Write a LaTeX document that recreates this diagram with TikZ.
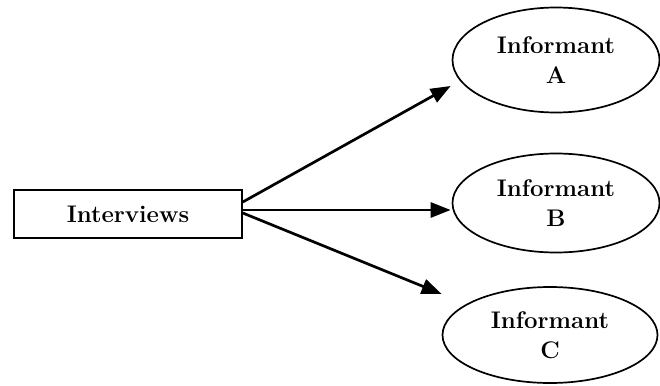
\documentclass[tikz,border=0pt]{standalone}
\usepackage{tikz}
\usetikzlibrary{arrows.meta,positioning,shapes.geometric}
\tikzset{%
  arrow/.style={line width=2.7pt,-{Triangle[length=20pt,width=15pt]}},
  source/.style={rectangle,draw,line width=1.6pt,minimum width=228pt,minimum height=48pt,inner sep=0pt},
  informant/.style={ellipse,draw,line width=1.7pt,inner sep=0pt,align=center},
}

\begin{document}
\begin{tikzpicture}[x=1pt,y=-1pt,font=\fontsize{24}{30}\selectfont\bfseries]
      \useasboundingbox (0,0) rectangle (660,385);
      \node[source] (interviews) at (128,214) {Interviews};
      \node[informant,minimum width=207pt,minimum height=105pt] (infA) at (556,60) {Informant\\A};
      \node[informant,minimum width=207pt,minimum height=99pt] (infB) at (556,203) {Informant\\B};
      \node[informant,minimum width=215pt,minimum height=96pt] (infC) at (550,335) {Informant\\C};

      \draw[arrow] ([yshift=12pt]interviews.east) -- ([xshift=-1pt,yshift=-26pt]infA.west);
      \draw[arrow] ([yshift=4pt]interviews.east) -- ([xshift=-1pt,yshift=-7pt]infB.west);
      \draw[arrow] ([yshift=1pt]interviews.east) -- ([yshift=41pt]infC.west);
    \end{tikzpicture}
\end{document}
